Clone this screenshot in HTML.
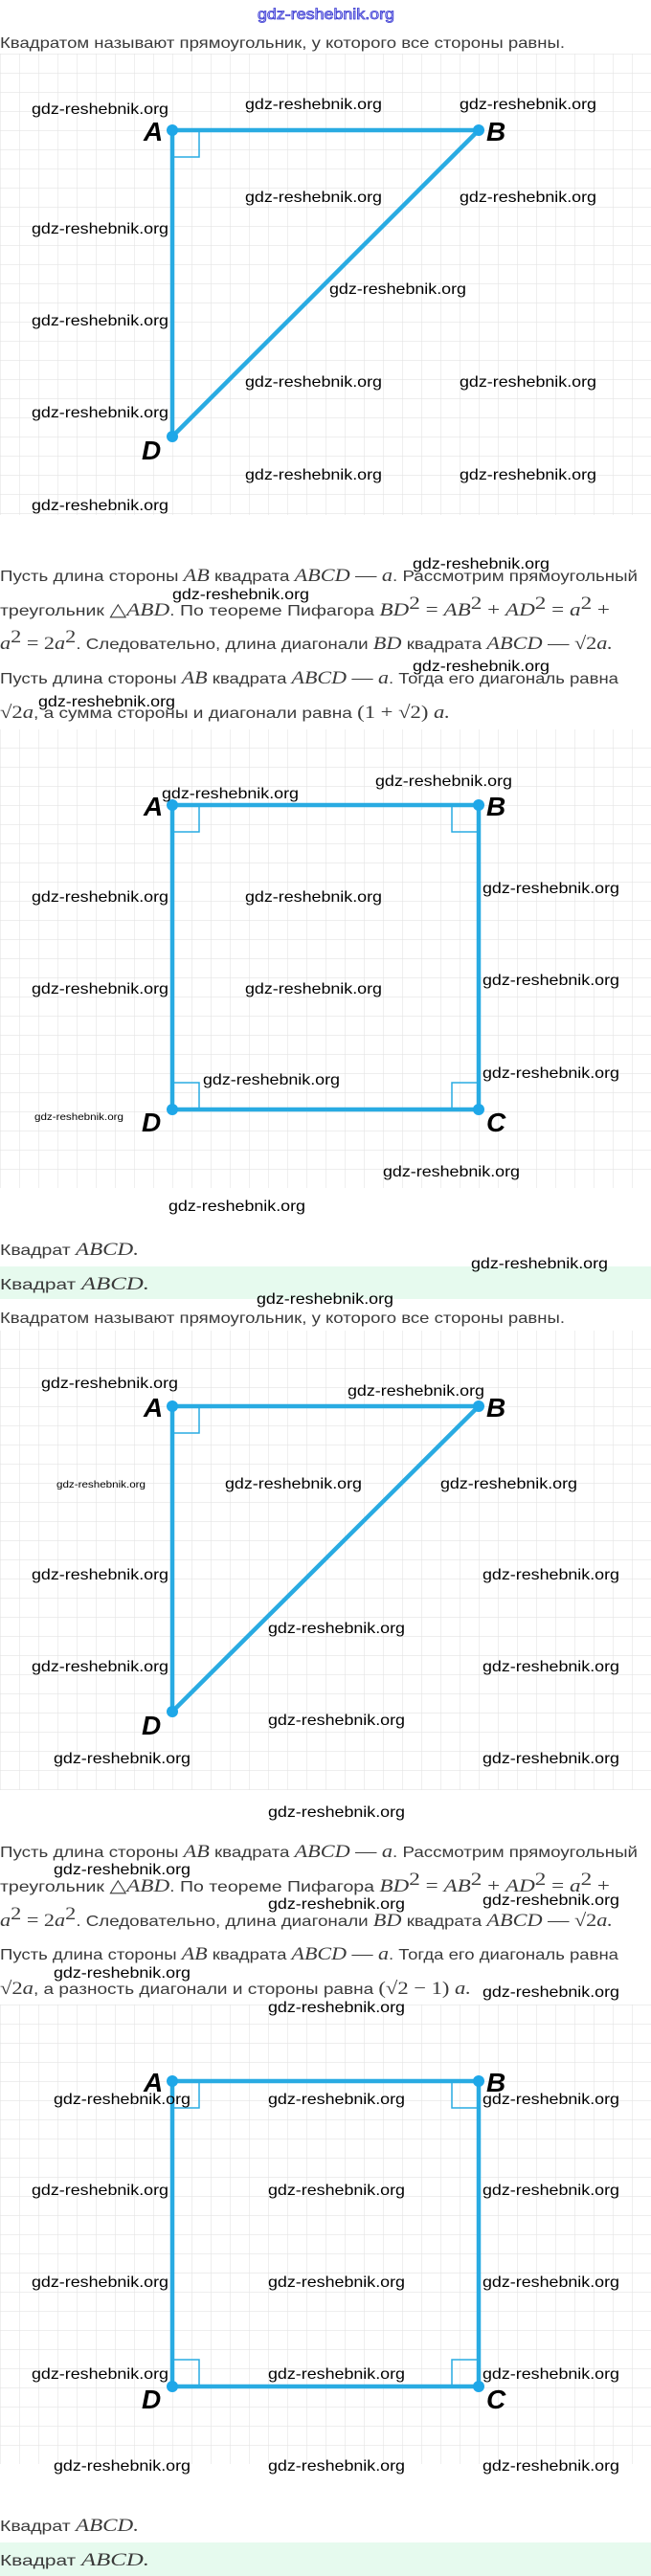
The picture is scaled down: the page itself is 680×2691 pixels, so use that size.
<!DOCTYPE html>
<html><head><meta charset="utf-8"><style>
html,body{margin:0;padding:0;background:#fff;}
svg{display:block;}
.t{font-family:"Liberation Sans",sans-serif;font-size:16px;fill:#3a3a3a;}
.m{font-family:"Liberation Serif",serif;font-style:italic;font-size:19px;}
.n{font-family:"Liberation Serif",serif;font-style:normal;font-size:19px;}
.w{font-family:"Liberation Sans",sans-serif;font-size:16px;fill:#000;}
.ws{font-family:"Liberation Sans",sans-serif;font-size:10px;fill:#000;}
.L{font-family:"Liberation Sans",sans-serif;font-weight:bold;font-style:italic;font-size:28px;fill:#000;}
.ln{stroke:#29abe2;stroke-width:4.5;fill:none;stroke-linecap:round;}
.ra{stroke:#29abe2;stroke-width:1.5;fill:none;}
.dot{fill:#1ea7e8;}
</style></head><body>
<svg width="680" height="2691" viewBox="0 0 680 2691" xmlns="http://www.w3.org/2000/svg">
<defs>
<pattern id="g1" width="20" height="20" x="0" y="16" patternUnits="userSpaceOnUse"><path d="M0 0H20M0 0V20" stroke="#e4e4e4" stroke-width="1.2" fill="none"/></pattern>
<pattern id="g2" width="20" height="20" x="0" y="1" patternUnits="userSpaceOnUse"><path d="M0 0H20M0 0V20" stroke="#e4e4e4" stroke-width="1.2" fill="none"/></pattern>
<pattern id="g3" width="20" height="20" x="0" y="9" patternUnits="userSpaceOnUse"><path d="M0 0H20M0 0V20" stroke="#e4e4e4" stroke-width="1.2" fill="none"/></pattern>
<pattern id="g4" width="20" height="20" x="0" y="14" patternUnits="userSpaceOnUse"><path d="M0 0H20M0 0V20" stroke="#e4e4e4" stroke-width="1.2" fill="none"/></pattern>
</defs>

<!-- title -->
<text x="269" y="20" textLength="143" lengthAdjust="spacingAndGlyphs" style="font-family:'Liberation Sans',sans-serif;font-size:16px;fill:#c8c8ff;stroke:#3a3ad0;stroke-width:0.8">gdz-reshebnik.org</text>

<!-- Section 1 -->
<text class="t" x="0" y="50" textLength="590" lengthAdjust="spacingAndGlyphs">Квадратом называют прямоугольник, у которого все стороны равны.</text>
<rect x="0" y="56" width="680" height="482" fill="url(#g1)"/>
<line class="ln" x1="180" y1="136" x2="500" y2="136"/>
<line class="ln" x1="180" y1="136" x2="180" y2="456"/>
<line class="ln" x1="500" y1="136" x2="180" y2="456"/>
<rect class="ra" x="180" y="136" width="28" height="28"/>
<circle class="dot" cx="180" cy="136" r="6"/><circle class="dot" cx="500" cy="136" r="6"/><circle class="dot" cx="180" cy="456" r="6"/>
<text class="L" x="150" y="147">A</text><text class="L" x="508" y="147">B</text><text class="L" x="148" y="480">D</text>
<g class="w">
<text x="33" y="119" textLength="143" lengthAdjust="spacingAndGlyphs">gdz-reshebnik.org</text>
<text x="256" y="114" textLength="143" lengthAdjust="spacingAndGlyphs">gdz-reshebnik.org</text>
<text x="480" y="114" textLength="143" lengthAdjust="spacingAndGlyphs">gdz-reshebnik.org</text>
<text x="256" y="211" textLength="143" lengthAdjust="spacingAndGlyphs">gdz-reshebnik.org</text>
<text x="480" y="211" textLength="143" lengthAdjust="spacingAndGlyphs">gdz-reshebnik.org</text>
<text x="33" y="244" textLength="143" lengthAdjust="spacingAndGlyphs">gdz-reshebnik.org</text>
<text x="344" y="307" textLength="143" lengthAdjust="spacingAndGlyphs">gdz-reshebnik.org</text>
<text x="33" y="340" textLength="143" lengthAdjust="spacingAndGlyphs">gdz-reshebnik.org</text>
<text x="256" y="404" textLength="143" lengthAdjust="spacingAndGlyphs">gdz-reshebnik.org</text>
<text x="480" y="404" textLength="143" lengthAdjust="spacingAndGlyphs">gdz-reshebnik.org</text>
<text x="33" y="436" textLength="143" lengthAdjust="spacingAndGlyphs">gdz-reshebnik.org</text>
<text x="256" y="501" textLength="143" lengthAdjust="spacingAndGlyphs">gdz-reshebnik.org</text>
<text x="480" y="501" textLength="143" lengthAdjust="spacingAndGlyphs">gdz-reshebnik.org</text>
<text x="33" y="533" textLength="143" lengthAdjust="spacingAndGlyphs">gdz-reshebnik.org</text>
</g>

<!-- paragraph 1 -->
<text class="t" x="0" y="607" textLength="666" lengthAdjust="spacingAndGlyphs">Пусть длина стороны <tspan class="m">AB</tspan> квадрата <tspan class="m">ABCD</tspan><tspan class="n"> — </tspan><tspan class="m">a</tspan>. Рассмотрим прямоугольный</text>
<text class="t" x="0" y="643" textLength="637" lengthAdjust="spacingAndGlyphs">треугольник <tspan class="n">△</tspan><tspan class="m">ABD</tspan>. По теореме Пифагора <tspan class="m">BD</tspan><tspan class="n" font-size="12" dy="-7">2</tspan><tspan class="n" dy="7"> = </tspan><tspan class="m">AB</tspan><tspan class="n" font-size="12" dy="-7">2</tspan><tspan class="n" dy="7"> + </tspan><tspan class="m">AD</tspan><tspan class="n" font-size="12" dy="-7">2</tspan><tspan class="n" dy="7"> = </tspan><tspan class="m">a</tspan><tspan class="n" font-size="12" dy="-7">2</tspan><tspan class="n" dy="7"> +</tspan></text>
<text class="t" x="0" y="678" textLength="640" lengthAdjust="spacingAndGlyphs"><tspan class="m">a</tspan><tspan class="n" font-size="12" dy="-7">2</tspan><tspan class="n" dy="7"> = 2</tspan><tspan class="m">a</tspan><tspan class="n" font-size="12" dy="-7">2</tspan><tspan dy="7">. Следовательно, длина диагонали </tspan><tspan class="m">BD</tspan> квадрата <tspan class="m">ABCD</tspan><tspan class="n"> — √2</tspan><tspan class="m">a.</tspan></text>
<text class="t" x="0" y="714" textLength="646" lengthAdjust="spacingAndGlyphs">Пусть длина стороны <tspan class="m">AB</tspan> квадрата <tspan class="m">ABCD</tspan><tspan class="n"> — </tspan><tspan class="m">a</tspan>. Тогда его диагональ равна</text>
<text class="t" x="0" y="750" textLength="470" lengthAdjust="spacingAndGlyphs"><tspan class="n">√2</tspan><tspan class="m">a</tspan>, а сумма стороны и диагонали равна <tspan class="n">(1 + √2) </tspan><tspan class="m">a.</tspan></text>
<g class="w">
<text x="431" y="594" textLength="143" lengthAdjust="spacingAndGlyphs">gdz-reshebnik.org</text>
<text x="180" y="626" textLength="143" lengthAdjust="spacingAndGlyphs">gdz-reshebnik.org</text>
<text x="431" y="701" textLength="143" lengthAdjust="spacingAndGlyphs">gdz-reshebnik.org</text>
<text x="40" y="738" textLength="143" lengthAdjust="spacingAndGlyphs">gdz-reshebnik.org</text>
</g>

<!-- Section 2 -->
<rect x="0" y="762" width="680" height="479" fill="url(#g2)"/>
<rect class="ln" x="180" y="841" width="320" height="318"/>
<rect class="ra" x="180" y="841" width="28" height="28"/>
<rect class="ra" x="472" y="841" width="28" height="28"/>
<rect class="ra" x="180" y="1131" width="28" height="28"/>
<rect class="ra" x="472" y="1131" width="28" height="28"/>
<circle class="dot" cx="180" cy="841" r="6"/><circle class="dot" cx="500" cy="841" r="6"/><circle class="dot" cx="180" cy="1159" r="6"/><circle class="dot" cx="500" cy="1159" r="6"/>
<text class="L" x="150" y="852">A</text><text class="L" x="508" y="852">B</text><text class="L" x="148" y="1182">D</text><text class="L" x="508" y="1182">C</text>
<g class="w">
<text x="169" y="834" textLength="143" lengthAdjust="spacingAndGlyphs">gdz-reshebnik.org</text>
<text x="392" y="821" textLength="143" lengthAdjust="spacingAndGlyphs">gdz-reshebnik.org</text>
<text x="33" y="942" textLength="143" lengthAdjust="spacingAndGlyphs">gdz-reshebnik.org</text>
<text x="256" y="942" textLength="143" lengthAdjust="spacingAndGlyphs">gdz-reshebnik.org</text>
<text x="504" y="933" textLength="143" lengthAdjust="spacingAndGlyphs">gdz-reshebnik.org</text>
<text x="33" y="1038" textLength="143" lengthAdjust="spacingAndGlyphs">gdz-reshebnik.org</text>
<text x="256" y="1038" textLength="143" lengthAdjust="spacingAndGlyphs">gdz-reshebnik.org</text>
<text x="504" y="1029" textLength="143" lengthAdjust="spacingAndGlyphs">gdz-reshebnik.org</text>
<text x="212" y="1133" textLength="143" lengthAdjust="spacingAndGlyphs">gdz-reshebnik.org</text>
<text x="504" y="1126" textLength="143" lengthAdjust="spacingAndGlyphs">gdz-reshebnik.org</text>
<text x="400" y="1229" textLength="143" lengthAdjust="spacingAndGlyphs">gdz-reshebnik.org</text>
<text x="176" y="1265" textLength="143" lengthAdjust="spacingAndGlyphs">gdz-reshebnik.org</text>
</g>
<text class="ws" x="36" y="1170" textLength="93" lengthAdjust="spacingAndGlyphs">gdz-reshebnik.org</text>
<text class="t" x="0" y="1311" textLength="145" lengthAdjust="spacingAndGlyphs">Квадрат <tspan class="m">ABCD.</tspan></text>
<rect x="0" y="1323" width="680" height="34" fill="#e6faee"/>
<text class="t" x="0" y="1347" font-size="18" textLength="156" lengthAdjust="spacingAndGlyphs">Квадрат <tspan class="m" font-size="21">ABCD.</tspan></text>
<g class="w">
<text x="492" y="1325" textLength="143" lengthAdjust="spacingAndGlyphs">gdz-reshebnik.org</text>
<text x="268" y="1362" textLength="143" lengthAdjust="spacingAndGlyphs">gdz-reshebnik.org</text>
</g>

<!-- Section 3 -->
<text class="t" x="0" y="1382" textLength="590" lengthAdjust="spacingAndGlyphs">Квадратом называют прямоугольник, у которого все стороны равны.</text>
<rect x="0" y="1390" width="680" height="480" fill="url(#g3)"/>
<line class="ln" x1="180" y1="1469" x2="500" y2="1469"/>
<line class="ln" x1="180" y1="1469" x2="180" y2="1788"/>
<line class="ln" x1="500" y1="1469" x2="180" y2="1788"/>
<rect class="ra" x="180" y="1469" width="28" height="28"/>
<circle class="dot" cx="180" cy="1469" r="6"/><circle class="dot" cx="500" cy="1469" r="6"/><circle class="dot" cx="180" cy="1788" r="6"/>
<text class="L" x="150" y="1480">A</text><text class="L" x="508" y="1480">B</text><text class="L" x="148" y="1812">D</text>
<g class="w">
<text x="43" y="1450" textLength="143" lengthAdjust="spacingAndGlyphs">gdz-reshebnik.org</text>
<text x="363" y="1458" textLength="143" lengthAdjust="spacingAndGlyphs">gdz-reshebnik.org</text>
<text x="235" y="1555" textLength="143" lengthAdjust="spacingAndGlyphs">gdz-reshebnik.org</text>
<text x="460" y="1555" textLength="143" lengthAdjust="spacingAndGlyphs">gdz-reshebnik.org</text>
<text x="33" y="1650" textLength="143" lengthAdjust="spacingAndGlyphs">gdz-reshebnik.org</text>
<text x="504" y="1650" textLength="143" lengthAdjust="spacingAndGlyphs">gdz-reshebnik.org</text>
<text x="280" y="1706" textLength="143" lengthAdjust="spacingAndGlyphs">gdz-reshebnik.org</text>
<text x="33" y="1746" textLength="143" lengthAdjust="spacingAndGlyphs">gdz-reshebnik.org</text>
<text x="504" y="1746" textLength="143" lengthAdjust="spacingAndGlyphs">gdz-reshebnik.org</text>
<text x="280" y="1802" textLength="143" lengthAdjust="spacingAndGlyphs">gdz-reshebnik.org</text>
<text x="56" y="1842" textLength="143" lengthAdjust="spacingAndGlyphs">gdz-reshebnik.org</text>
<text x="504" y="1842" textLength="143" lengthAdjust="spacingAndGlyphs">gdz-reshebnik.org</text>
<text x="280" y="1898" textLength="143" lengthAdjust="spacingAndGlyphs">gdz-reshebnik.org</text>
</g>
<text class="ws" x="59" y="1554" textLength="93" lengthAdjust="spacingAndGlyphs">gdz-reshebnik.org</text>

<!-- paragraph 2 -->
<text class="t" x="0" y="1940" textLength="666" lengthAdjust="spacingAndGlyphs">Пусть длина стороны <tspan class="m">AB</tspan> квадрата <tspan class="m">ABCD</tspan><tspan class="n"> — </tspan><tspan class="m">a</tspan>. Рассмотрим прямоугольный</text>
<text class="t" x="0" y="1976" textLength="637" lengthAdjust="spacingAndGlyphs">треугольник <tspan class="n">△</tspan><tspan class="m">ABD</tspan>. По теореме Пифагора <tspan class="m">BD</tspan><tspan class="n" font-size="12" dy="-7">2</tspan><tspan class="n" dy="7"> = </tspan><tspan class="m">AB</tspan><tspan class="n" font-size="12" dy="-7">2</tspan><tspan class="n" dy="7"> + </tspan><tspan class="m">AD</tspan><tspan class="n" font-size="12" dy="-7">2</tspan><tspan class="n" dy="7"> = </tspan><tspan class="m">a</tspan><tspan class="n" font-size="12" dy="-7">2</tspan><tspan class="n" dy="7"> +</tspan></text>
<text class="t" x="0" y="2012" textLength="640" lengthAdjust="spacingAndGlyphs"><tspan class="m">a</tspan><tspan class="n" font-size="12" dy="-7">2</tspan><tspan class="n" dy="7"> = 2</tspan><tspan class="m">a</tspan><tspan class="n" font-size="12" dy="-7">2</tspan><tspan dy="7">. Следовательно, длина диагонали </tspan><tspan class="m">BD</tspan> квадрата <tspan class="m">ABCD</tspan><tspan class="n"> — √2</tspan><tspan class="m">a.</tspan></text>
<text class="t" x="0" y="2047" textLength="646" lengthAdjust="spacingAndGlyphs">Пусть длина стороны <tspan class="m">AB</tspan> квадрата <tspan class="m">ABCD</tspan><tspan class="n"> — </tspan><tspan class="m">a</tspan>. Тогда его диагональ равна</text>
<text class="t" x="0" y="2083" textLength="492" lengthAdjust="spacingAndGlyphs"><tspan class="n">√2</tspan><tspan class="m">a</tspan>, а разность диагонали и стороны равна <tspan class="n">(√2 − 1) </tspan><tspan class="m">a.</tspan></text>
<g class="w">
<text x="56" y="1958" textLength="143" lengthAdjust="spacingAndGlyphs">gdz-reshebnik.org</text>
<text x="280" y="1994" textLength="143" lengthAdjust="spacingAndGlyphs">gdz-reshebnik.org</text>
<text x="504" y="1990" textLength="143" lengthAdjust="spacingAndGlyphs">gdz-reshebnik.org</text>
<text x="56" y="2066" textLength="143" lengthAdjust="spacingAndGlyphs">gdz-reshebnik.org</text>
<text x="504" y="2086" textLength="143" lengthAdjust="spacingAndGlyphs">gdz-reshebnik.org</text>
</g>

<!-- Section 4 -->
<rect x="0" y="2094" width="680" height="480" fill="url(#g4)"/>
<rect class="ln" x="180" y="2174" width="320" height="319"/>
<rect class="ra" x="180" y="2174" width="28" height="28"/>
<rect class="ra" x="472" y="2174" width="28" height="28"/>
<rect class="ra" x="180" y="2465" width="28" height="28"/>
<rect class="ra" x="472" y="2465" width="28" height="28"/>
<circle class="dot" cx="180" cy="2174" r="6"/><circle class="dot" cx="500" cy="2174" r="6"/><circle class="dot" cx="180" cy="2493" r="6"/><circle class="dot" cx="500" cy="2493" r="6"/>
<text class="L" x="150" y="2185">A</text><text class="L" x="508" y="2185">B</text><text class="L" x="148" y="2516">D</text><text class="L" x="508" y="2516">C</text>
<g class="w">
<text x="280" y="2102" textLength="143" lengthAdjust="spacingAndGlyphs">gdz-reshebnik.org</text>
<text x="56" y="2198" textLength="143" lengthAdjust="spacingAndGlyphs">gdz-reshebnik.org</text>
<text x="280" y="2198" textLength="143" lengthAdjust="spacingAndGlyphs">gdz-reshebnik.org</text>
<text x="504" y="2198" textLength="143" lengthAdjust="spacingAndGlyphs">gdz-reshebnik.org</text>
<text x="33" y="2293" textLength="143" lengthAdjust="spacingAndGlyphs">gdz-reshebnik.org</text>
<text x="280" y="2293" textLength="143" lengthAdjust="spacingAndGlyphs">gdz-reshebnik.org</text>
<text x="504" y="2293" textLength="143" lengthAdjust="spacingAndGlyphs">gdz-reshebnik.org</text>
<text x="33" y="2389" textLength="143" lengthAdjust="spacingAndGlyphs">gdz-reshebnik.org</text>
<text x="280" y="2389" textLength="143" lengthAdjust="spacingAndGlyphs">gdz-reshebnik.org</text>
<text x="504" y="2389" textLength="143" lengthAdjust="spacingAndGlyphs">gdz-reshebnik.org</text>
<text x="33" y="2485" textLength="143" lengthAdjust="spacingAndGlyphs">gdz-reshebnik.org</text>
<text x="280" y="2485" textLength="143" lengthAdjust="spacingAndGlyphs">gdz-reshebnik.org</text>
<text x="504" y="2485" textLength="143" lengthAdjust="spacingAndGlyphs">gdz-reshebnik.org</text>
<text x="56" y="2581" textLength="143" lengthAdjust="spacingAndGlyphs">gdz-reshebnik.org</text>
<text x="280" y="2581" textLength="143" lengthAdjust="spacingAndGlyphs">gdz-reshebnik.org</text>
<text x="504" y="2581" textLength="143" lengthAdjust="spacingAndGlyphs">gdz-reshebnik.org</text>
</g>
<text class="t" x="0" y="2644" textLength="145" lengthAdjust="spacingAndGlyphs">Квадрат <tspan class="m">ABCD.</tspan></text>
<rect x="0" y="2656" width="680" height="35" fill="#e6faee"/>
<text class="t" x="0" y="2680" font-size="18" textLength="156" lengthAdjust="spacingAndGlyphs">Квадрат <tspan class="m" font-size="21">ABCD.</tspan></text>
</svg>
</body></html>
